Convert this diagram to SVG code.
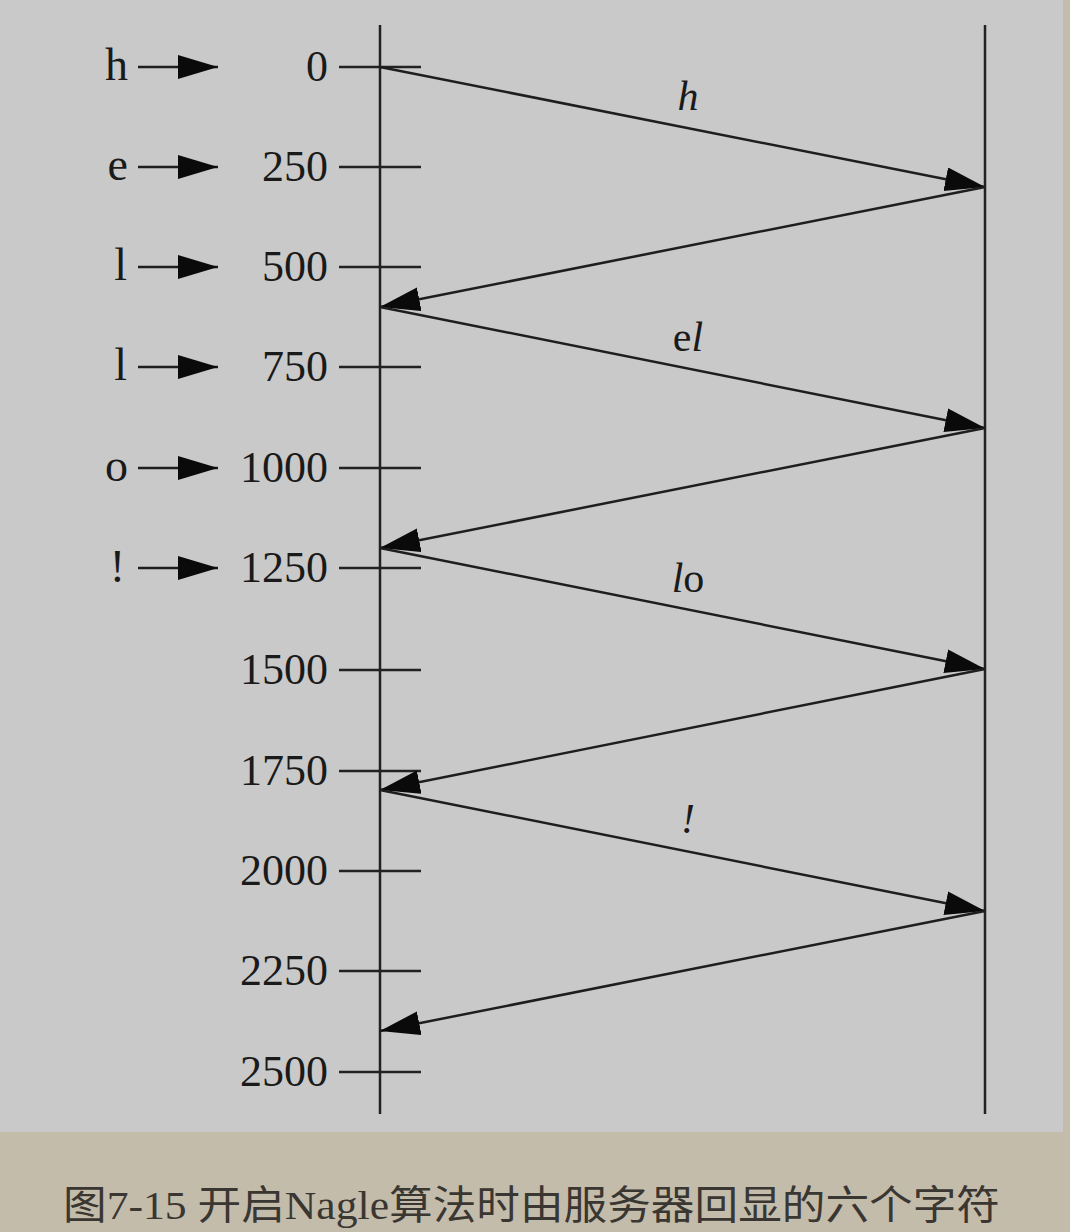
<svg xmlns="http://www.w3.org/2000/svg" width="1070" height="1232" viewBox="0 0 1070 1232">
<style>
.ax{stroke:#222;stroke-width:2.5;fill:none}
.tk{stroke:#222;stroke-width:2.5}
.ln{stroke:#1e1e1e;stroke-width:2.5;fill:none}
.num{font-family:"Liberation Serif",serif;font-size:44px;fill:#1a1a1a;text-anchor:end}
.ch{font-family:"Liberation Serif",serif;font-size:46px;fill:#1a1a1a;text-anchor:end}
.lbl{font-family:"Liberation Serif",serif;font-style:italic;font-size:42px;fill:#1a1a1a;text-anchor:middle}
.cap{font-family:"Liberation Serif","Noto Sans CJK SC",serif;font-size:40px;fill:#3a3631}
</style>
<defs>
<marker id="ah" markerUnits="userSpaceOnUse" markerWidth="42" markerHeight="26" refX="40" refY="12" orient="auto">
<path d="M0,0 L40,12 L0,24 z" fill="#0a0a0a"/>
</marker>
</defs>
<rect width="1070" height="1232" fill="#c4bcab"/>
<rect width="1063" height="1132" fill="#c9c9c9"/>
<g id="axes">
<line class="ax" x1="380" y1="25" x2="380" y2="1114"/>
<line class="ax" x1="985" y1="25" x2="985" y2="1114"/>
</g>
<g id="ticks">
<line class="tk" x1="339" y1="67" x2="421" y2="67"/>
<line class="tk" x1="339" y1="167" x2="421" y2="167"/>
<line class="tk" x1="339" y1="267" x2="421" y2="267"/>
<line class="tk" x1="339" y1="367" x2="421" y2="367"/>
<line class="tk" x1="339" y1="468" x2="421" y2="468"/>
<line class="tk" x1="339" y1="568" x2="421" y2="568"/>
<line class="tk" x1="339" y1="670" x2="421" y2="670"/>
<line class="tk" x1="339" y1="771" x2="421" y2="771"/>
<line class="tk" x1="339" y1="871" x2="421" y2="871"/>
<line class="tk" x1="339" y1="971" x2="421" y2="971"/>
<line class="tk" x1="339" y1="1072" x2="421" y2="1072"/>
</g>
<g id="times">
<text class="num" x="328" y="81">0</text>
<text class="num" x="328" y="181">250</text>
<text class="num" x="328" y="281">500</text>
<text class="num" x="328" y="381">750</text>
<text class="num" x="328" y="482">1000</text>
<text class="num" x="328" y="582">1250</text>
<text class="num" x="328" y="684">1500</text>
<text class="num" x="328" y="785">1750</text>
<text class="num" x="328" y="885">2000</text>
<text class="num" x="328" y="985">2250</text>
<text class="num" x="328" y="1086">2500</text>
</g>
<g id="inputs">
<text class="ch" x="128" y="80">h</text>
<text class="ch" x="128" y="180">e</text>
<text class="ch" x="127" y="280">l</text>
<text class="ch" x="127" y="380">l</text>
<text class="ch" x="128" y="481">o</text>
<text class="ch" x="125" y="582">!</text>
<line class="ln" x1="138" y1="67" x2="218" y2="67" marker-end="url(#ah)"/>
<line class="ln" x1="138" y1="167" x2="218" y2="167" marker-end="url(#ah)"/>
<line class="ln" x1="138" y1="267" x2="218" y2="267" marker-end="url(#ah)"/>
<line class="ln" x1="138" y1="367" x2="218" y2="367" marker-end="url(#ah)"/>
<line class="ln" x1="138" y1="468" x2="218" y2="468" marker-end="url(#ah)"/>
<line class="ln" x1="138" y1="568" x2="218" y2="568" marker-end="url(#ah)"/>
</g>
<g id="connectors">
<line class="ln" x1="380" y1="67" x2="985" y2="187" marker-end="url(#ah)"/>
<line class="ln" x1="985" y1="187" x2="380" y2="307" marker-end="url(#ah)"/>
<line class="ln" x1="380" y1="307" x2="985" y2="428" marker-end="url(#ah)"/>
<line class="ln" x1="985" y1="428" x2="380" y2="548" marker-end="url(#ah)"/>
<line class="ln" x1="380" y1="548" x2="985" y2="669" marker-end="url(#ah)"/>
<line class="ln" x1="985" y1="669" x2="380" y2="790" marker-end="url(#ah)"/>
<line class="ln" x1="380" y1="790" x2="985" y2="911" marker-end="url(#ah)"/>
<line class="ln" x1="985" y1="911" x2="380" y2="1031" marker-end="url(#ah)"/>
</g>
<g id="labels">
<text class="lbl" x="688" y="110">h</text>
<text class="lbl" x="688" y="351"><tspan font-style="normal">e</tspan>l</text>
<text class="lbl" x="688" y="592">l<tspan font-style="normal">o</tspan></text>
<text class="lbl" x="688" y="833">!</text>
</g>
<text class="cap" x="63" y="1219" textLength="937" lengthAdjust="spacingAndGlyphs">图7-15 开启Nagle算法时由服务器回显的六个字符</text>
</svg>
